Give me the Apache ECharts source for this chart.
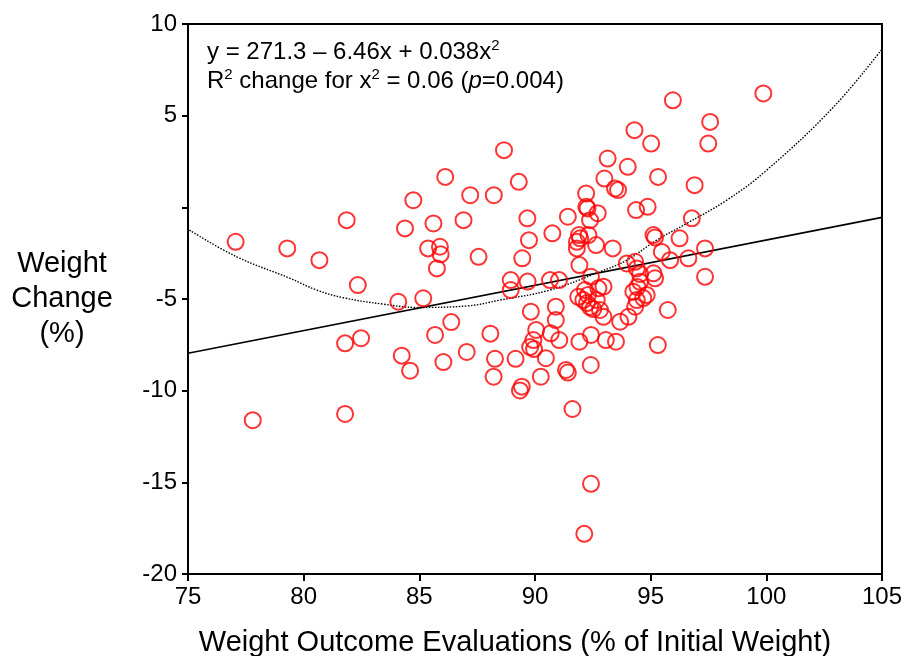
<!DOCTYPE html>
<html>
<head>
<meta charset="utf-8">
<script src="https://cdn.jsdelivr.net/npm/echarts@6/dist/echarts.min.js"></script>
<style>
html,body{margin:0;padding:0;background:#fff;}
#chart{width:901px;height:656px;}
</style>
</head>
<body>
<div id="chart"></div>
<script>
// Scatter points: Weight Outcome Evaluations (% of initial weight) vs Weight Change (%)
var xs = [77.06,79.29,80.68,82.34,81.86,77.80,81.79,81.79,82.48,84.09,84.24,84.60,84.38,84.74,85.17,85.61,85.38,85.89,85.92,85.76,85.68,86.04,86.38,86.12,87.20,86.91,87.56,87.05,88.66,88.22,89.30,89.67,89.74,89.45,88.95,88.95,89.68,89.82,88.07,88.27,88.21,89.16,89.43,89.35,
90.05,89.93,89.79,89.96,90.68,91.05,90.90,90.90,90.47,90.25,91.34,91.42,92.41,91.62,91.92,92.42,93.06,93.50,95.31,95.74,92.96,92.81,93.68,94.04,94.33,94.68,94.83,94.25,94.40,90.65,91.04,90.75,91.42,92.38,91.90,91.95,91.81,92.31,91.81,92.64,93.36,91.92,92.42,92.96,92.74,92.16,91.87,92.09,92.25,92.38,92.52,92.29,92.67,93.97,94.33,94.40,94.54,94.54,94.43,95.12,95.19,95.12,95.19,95.48,95.84,96.25,96.63,97.35,97.35,96.78,92.22,92.27,92.71,94.37,94.87,92.21,93.00,93.46,93.59,93.14,94.01,95.32,94.30,95.02,95.96,97.57,97.49,96.90,99.87,92.42,92.13];
var ys = [-1.88,-2.24,-2.88,-4.24,-0.70,-11.61,-11.27,-7.42,-7.14,-5.15,-8.09,-8.91,-1.15,0.39,-4.96,-0.88,-2.24,-2.15,-2.56,-3.33,-6.96,-8.44,-6.26,1.66,0.66,-0.70,-2.70,-7.89,3.12,0.66,1.39,-0.60,-1.79,-2.78,-3.97,-4.51,-4.05,-5.69,-6.89,-8.26,-9.24,-8.26,-9.78,-9.99,
-6.69,-7.24,-7.62,-7.73,-6.87,-7.24,-5.42,-6.15,-8.23,-9.24,-8.87,-9.01,-8.60,-11.00,-7.33,-6.96,-7.24,-7.33,-7.51,-5.60,-5.97,-5.60,-6.24,-5.97,-5.42,-4.95,-4.78,-4.60,-5.06,-3.97,-3.97,-1.42,-0.51,-0.70,-1.51,-1.69,-1.88,-1.51,-2.24,-2.06,-2.24,-3.15,-3.79,-4.33,-4.42,-4.51,-4.88,-5.06,-5.22,-5.44,-5.55,-4.78,-5.06,-3.06,-2.97,-3.33,-3.64,-4.06,-4.35,-3.60,-3.87,-1.51,-1.64,-2.43,-2.88,-1.69,-2.78,-2.24,-3.79,-0.60,0.03,-0.06,-0.32,-0.15,0.03,0.76,1.57,1.03,0.94,2.66,2.21,1.66,4.21,3.48,5.84,4.66,3.48,1.21,6.21,-15.08,-17.81];

// Linear fit line (end points)
var fitX = [75, 105];
var fitY = [-7.96, -0.55];

// Quadratic fit curve as drawn (dotted)
var curveX = [75.06,77.11,79.41,80.56,81.71,83.44,84.89,87.05,88.49,90.65,92.81,93.97,95.26,96.56,98.29,100.02,102.91,104.96];
var curveY = [-1.24,-2.70,-3.87,-4.51,-4.93,-5.28,-5.46,-5.38,-5.06,-4.51,-3.51,-2.88,-1.79,-0.88,0.39,2.03,5.48,8.57];

// Axis ticks
var xTicks = [75, 80, 85, 90, 95, 100, 105];
var yTicks = [-20, -15, -10, -5, 0, 5, 10];
var yHidden = [0];

var FONT = "'Liberation Sans', Arial, Helvetica, sans-serif";

function zip(a, b) { return a.map(function (v, i) { return [v, b[i]]; }); }

var chart = echarts.init(document.getElementById('chart'), null, {renderer: 'canvas'});

chart.setOption({
  backgroundColor: '#fff',
  animation: false,
  grid: {left: 188, right: 19, top: 24, bottom: 82, containLabel: false, outerBoundsMode: 'none',
    show: true, borderColor: '#000', borderWidth: 2, backgroundColor: 'transparent'},
  xAxis: {
    type: 'value', min: xTicks[0], max: xTicks[xTicks.length - 1], interval: xTicks[1] - xTicks[0],
    axisLine: {show: true, onZero: false, lineStyle: {color: '#000', width: 2}},
    axisTick: {show: true, inside: false, length: 7, lineStyle: {color: '#000', width: 2}},
    splitLine: {show: false},
    axisLabel: {color: '#000', fontSize: 24, fontFamily: FONT, margin: 11},
    name: 'Weight Outcome Evaluations (% of Initial Weight)',
    nameLocation: 'middle', nameGap: 54,
    nameTextStyle: {color: '#000', fontSize: 29, fontFamily: FONT, padding: [0, 40, 0, 0]}
  },
  yAxis: {
    type: 'value', min: yTicks[0], max: yTicks[yTicks.length - 1], interval: yTicks[1] - yTicks[0],
    axisLine: {show: true, onZero: false, lineStyle: {color: '#000', width: 2}},
    axisTick: {show: true, inside: false, length: 6, lineStyle: {color: '#000', width: 2}},
    splitLine: {show: false},
    axisLabel: {color: '#000', fontSize: 24, fontFamily: FONT, margin: 11,
      formatter: function (v) { return yHidden.indexOf(v) >= 0 ? '' : String(v); }},
    name: 'Weight\nChange\n(%)',
    nameLocation: 'middle', nameRotate: 0, nameGap: 126,
    nameTextStyle: {color: '#000', fontSize: 29, fontFamily: FONT, align: 'center', lineHeight: 35, padding: [4, 0, 0, 0]}
  },
  graphic: [
    {type: 'text', left: 207, top: 38, z: 100,
      style: {text: 'y = 271.3 – 6.46x + 0.038x{sup|2}', fontSize: 24, fontFamily: FONT, fill: '#000',
        rich: {sup: {fontSize: 15, fontFamily: FONT, padding: [0, 0, 14, 0], fill: '#000'}}}},
    {type: 'text', left: 207, top: 67, z: 100,
      style: {text: 'R{sup|2} change for x{sup|2} = 0.06 ({it|p}=0.004)', fontSize: 24, fontFamily: FONT, fill: '#000',
        rich: {sup: {fontSize: 15, fontFamily: FONT, padding: [0, 0, 14, 0], fill: '#000'},
               it: {fontSize: 24, fontFamily: FONT, fontStyle: 'italic', fill: '#000'}}}}
  ],
  series: [
    {type: 'line', data: zip(curveX, curveY), smooth: 0.4, symbol: 'none', silent: true, z: 2,
      lineStyle: {color: '#000', width: 1.4, type: [1.5, 1.5]}},
    {type: 'line', data: zip(fitX, fitY), symbol: 'none', silent: true, z: 3,
      lineStyle: {color: '#000', width: 1.7}},
    {type: 'scatter', data: zip(xs, ys), symbol: 'circle', symbolSize: 16, z: 4,
      itemStyle: {color: 'rgba(255,255,255,0)', borderColor: '#ff0000', borderWidth: 2}}
  ]
});
</script>
</body>
</html>
